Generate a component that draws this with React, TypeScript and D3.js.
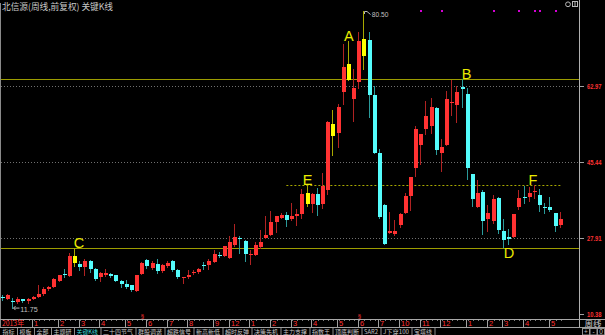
import React from "react";
import * as d3 from "d3";

// ---- data (weekly candles, 前复权) ----
const opens = [14.1, 13.81, 13.34, 13.04, 13.67, 13.2, 13.74, 14.27, 14.89, 15.98, 16.51, 17.97, 19.52, 19.06, 23.69, 21.84, 21.07, 22.6, 20.61, 18.76, 19.36, 19.52, 19.36, 17.97, 17.21, 16.91, 15.66, 19.52, 22.76, 20.91, 21.84, 20.15, 21.38, 22.46, 20.45, 18.7, 18.76, 19.9, 19.92, 21.65, 21.61, 22.37, 23.97, 23.76, 23.3, 26.24, 27.85, 27.16, 24.15, 23.92, 25.77, 27.93, 28.55, 31.63, 32.56, 33.18, 32.26, 32.88, 33.48, 38.28, 35.66, 37.97, 35.66, 39.04, 54.32, 52.17, 61.73, 64.5, 60.04, 63.9, 73.93, 73.77, 60.96, 47.6, 35.57, 29.09, 28.78, 30.8, 33.72, 37.58, 44.06, 49.46, 53.16, 53.79, 57.95, 47.61, 49.46, 59.04, 58.72, 62.89, 61.2, 42.67, 35.11, 38.51, 32.19, 31.72, 37.12, 29.55, 28.16, 28.02, 35.11, 37.42, 37.28, 38.6, 37.88, 35.11, 34.96, 33.57, 30.94];
const highs = [14.66, 14.82, 13.9, 14.13, 13.81, 13.97, 14.43, 16.91, 16.45, 16.75, 18.6, 19.36, 20.61, 24.45, 25.47, 22.6, 22.93, 22.76, 20.91, 19.99, 20.61, 19.69, 19.4, 18.14, 18.14, 16.95, 19.4, 22.3, 22.93, 22.6, 22.93, 21.84, 22.46, 22.76, 20.75, 18.9, 20.45, 20.5, 20.84, 22.37, 22.99, 25.15, 24.69, 26.08, 28.39, 31.17, 28.4, 27.32, 25.15, 26.86, 29.64, 33.02, 34.11, 33.02, 33.65, 33.81, 35.96, 34.57, 39.2, 40.06, 38.28, 39.5, 42.9, 54.94, 57.42, 58.95, 72.7, 73.47, 66.98, 75.62, 80.5, 75.62, 62.98, 48.46, 35.73, 33.88, 32.02, 33.72, 38.35, 42.05, 53.79, 52.0, 59.5, 60.27, 58.25, 50.85, 61.96, 64.43, 63.05, 64.74, 62.58, 42.7, 41.29, 38.97, 35.57, 37.74, 37.42, 32.19, 30.01, 33.41, 38.97, 39.9, 39.6, 40.06, 39.27, 36.03, 37.42, 33.6, 33.88];
const lows = [13.5, 13.67, 11.75, 12.74, 13.04, 12.88, 13.67, 14.13, 14.73, 15.82, 16.45, 17.83, 18.76, 19.0, 21.38, 20.45, 19.22, 19.99, 18.14, 17.83, 19.06, 18.9, 17.9, 16.58, 16.28, 15.66, 15.52, 19.5, 20.91, 20.61, 19.69, 19.99, 21.07, 20.29, 18.6, 17.37, 18.6, 19.45, 19.76, 20.68, 20.68, 22.23, 23.46, 23.62, 23.25, 26.08, 24.3, 22.53, 21.77, 23.9, 25.61, 27.9, 28.5, 29.32, 32.42, 30.57, 31.96, 30.87, 32.42, 35.2, 33.95, 33.18, 34.87, 38.11, 47.07, 48.92, 58.95, 64.4, 54.94, 62.52, 67.0, 55.87, 47.5, 32.42, 26.4, 28.95, 28.62, 30.47, 33.57, 34.34, 42.21, 44.99, 51.93, 52.1, 47.3, 43.44, 49.32, 56.4, 54.71, 58.25, 41.45, 35.27, 34.96, 28.78, 29.55, 31.26, 28.95, 25.84, 26.47, 28.02, 34.64, 36.03, 36.35, 37.12, 34.18, 33.72, 34.18, 29.55, 30.47];
const closes = [14.0, 14.59, 12.97, 13.67, 13.2, 13.67, 14.27, 14.96, 16.12, 16.45, 18.3, 19.22, 19.22, 23.69, 22.0, 21.21, 22.46, 20.61, 18.44, 19.69, 19.83, 19.06, 17.97, 17.21, 16.45, 15.82, 19.36, 22.14, 21.38, 22.14, 20.15, 21.68, 22.14, 20.45, 18.76, 18.8, 19.36, 20.0, 20.68, 21.55, 22.53, 24.08, 23.87, 25.94, 26.86, 28.09, 27.75, 24.08, 24.25, 26.24, 27.0, 28.55, 31.63, 32.88, 33.18, 32.09, 33.02, 33.48, 37.97, 35.66, 38.11, 35.5, 39.97, 54.78, 51.4, 58.18, 67.45, 68.07, 62.52, 73.47, 70.06, 60.96, 47.54, 32.7, 26.47, 29.55, 29.41, 33.41, 37.58, 41.91, 53.16, 51.93, 56.1, 58.25, 48.23, 48.99, 60.11, 59.34, 61.66, 62.42, 44.06, 36.82, 38.35, 31.86, 33.72, 36.82, 29.71, 27.4, 27.56, 33.41, 37.12, 37.12, 38.2, 38.7, 35.57, 34.96, 34.34, 30.64, 32.33];

// key candles (yellow)
const keyCandles = [15, 60, 65, 68, 71];
// right axis
const axisTicks = [62.97, 45.44, 27.91, 10.38];
const gridTicks = [62.97, 45.44, 27.91];
// key-line levels
const levelResist = 64.6;
const levelSupport = 25.47;
const levelDash = 40.06;
const dashFrom = 56;
const dashTo = 109;
// letter marks
const markNames = ["C", "E", "A", "B", "F", "D"];
const markIdx = [15, 60, 68, 90, 104, 99];
const markBelow = [false, false, false, false, false, true];
// signal dots at top
const signalIdx = [82, 86, 96, 101, 104, 105, 108];
// ex-rights markers
const rightsIdx = [28, 70];
// high / low annotations
const maxIdx = 71;
const minIdx = 3;
// months
const monthLabels = ["2013年", "1", "2", "3", "4", "5", "6", "7", "8", "9", "12", "1", "2", "3", "4", "5", "6", "7", "10", "11", "12", "1", "2", "3", "4", "5"];
const monthStarts = [1, 7, 12, 16, 20, 25, 29, 33, 37, 42, 45, 49, 53, 57, 61, 66, 70, 74, 78, 82, 86, 91, 95, 98, 102, 107];
// bottom tabs
const tabNames = ["指标", "模板", "全部", "主题研", "关键K线", "二十四节气", "群股调谐", "超跌信号", "新高新低", "超时反弹", "决策先机", "主力支撑", "指数王", "顶底判断", "SAR2", "J下穿100", "宝塔线"];
const activeTab = "关键K线";
const title = "北信源(周线,前复权) 关键K线";

const CJK = "'Noto Sans CJK SC', 'Noto Sans', sans-serif";
const LAT = "'Liberation Sans', Arial, sans-serif";

export default function App() {
  const W = 605;
  const H = 335;
  const n = opens.length;
  const ids = d3.range(1, n + 1);
  const x = d3.scaleBand<number>().domain(ids).range([0.1, 563.3]);
  const cx = (i: number) => (x(i) as number) + x.bandwidth() / 2;
  const y = d3.scaleLinear().domain([axisTicks[3], axisTicks[0]]).range([313.5, 86.3]);
  const py = (v: number) => Math.round(y(v)) + 0.5;
  const plotL = 1;
  const plotR = 579;

  const textW = (s: string) =>
    Array.from(s).reduce((a, ch) => a + (/[\u3000-\u9fff\uff00-\uffef]/.test(ch) ? 6 : 3.5), 0);

  // tabs layout
  let acc = 0;
  const tabs = tabNames.map((t) => {
    const w = textW(t);
    const item = { t, x0: acc, w, tw: w + 5 };
    acc += w + 5;
    return item;
  });

  const candles = ids.map((i) => {
    const o = opens[i - 1], h = highs[i - 1], l = lows[i - 1], c = closes[i - 1];
    const isKey = keyCandles.includes(i);
    const up = c >= o;
    const body = isKey ? "#ffff00" : up ? "#ff3232" : "#54fcfc";
    const wick = isKey ? "#a8a800" : up ? "#b02222" : "#2a9a9a";
    const left = Math.round(cx(i) - 2);
    const top = Math.round(y(Math.max(o, c)));
    const bot = Math.round(y(Math.min(o, c)));
    const bh = Math.max(1, bot - top);
    return (
      <g key={i}>
        <line x1={left + 1.5} x2={left + 1.5} y1={Math.round(y(h))} y2={Math.round(y(l)) + 1} stroke={wick} strokeWidth={1} />
        <rect x={left} y={top} width={4} height={bh} fill={body} />
      </g>
    );
  });

  return (
    <svg width={W} height={H} style={{ position: "absolute", left: 0, top: 0, background: "#000" }} xmlns="http://www.w3.org/2000/svg">
      <rect x={0} y={0} width={W} height={H} fill="#000" />
      {/* title */}
      <text x={2} y={9.5} fontFamily={CJK} fontSize={9} fill="#c8c8c8" textLength={111} lengthAdjust="spacingAndGlyphs">{title}</text>
      {/* top right icons */}
      <circle cx={568} cy={4.3} r={2.4} fill="none" stroke="#b8b8b8" strokeWidth={1} />
      <rect x={572.5} y={1.5} width={5} height={5} fill="none" stroke="#b8b8b8" strokeWidth={1} />
      <line x1={575} x2={575} y1={1.5} y2={6.5} stroke="#b8b8b8" />

      {/* borders */}
      <line x1={0.5} x2={0.5} y1={3} y2={327} stroke="#8a8a8a" />
      <line x1={579.5} x2={579.5} y1={0} y2={327} stroke="#b0b0b0" />

      {/* grid */}
      {gridTicks.map((t) => (
        <line key={t} x1={plotL} x2={plotR} y1={py(t)} y2={py(t)} stroke="#707070" strokeDasharray="1 2" />
      ))}

      {/* key levels */}
      <line x1={plotL} x2={plotR} y1={py(levelResist)} y2={py(levelResist)} stroke="#9c9c00" />
      <line x1={plotL} x2={plotR} y1={py(levelSupport)} y2={py(levelSupport)} stroke="#9c9c00" />
      <line x1={cx(dashFrom) - 0.5} x2={cx(dashTo)} y1={py(levelDash)} y2={py(levelDash)} stroke="#a8a800" strokeDasharray="2 2" />

      {/* candles */}
      {candles}

      {/* letter marks */}
      {markNames.map((m, k) => {
        const i = markIdx[k];
        const below = markBelow[k];
        const yy = below ? y(lows[i - 1]) + 14 : y(highs[i - 1]);
        const dx = m === "C" || m === "B" ? 4 : m === "F" ? -2 : 0;
        return (
          <text key={m} x={cx(i) + dx} y={yy} textAnchor="middle" fontFamily={LAT} fontSize={14.5} fill="#eaea00">{m}</text>
        );
      })}

      {/* max annotation */}
      <path d={`M ${Math.round(cx(maxIdx)) + 0.5} ${Math.round(y(highs[maxIdx - 1])) + 3} V ${Math.round(y(highs[maxIdx - 1])) + 0.5} H ${Math.round(cx(maxIdx)) + 3} L ${Math.round(cx(maxIdx)) + 6.5} ${Math.round(y(highs[maxIdx - 1])) + 3.5}`} fill="none" stroke="#b8b8b8" />
      <text x={cx(maxIdx) + 7.5} y={y(highs[maxIdx - 1]) + 6.8} fontFamily={LAT} fontSize={7.5} fill="#c0c0c0" textLength={16.6} lengthAdjust="spacingAndGlyphs">{highs[maxIdx - 1].toFixed(2)}</text>
      {/* min annotation */}
      <path d={`M ${cx(minIdx) + 0.5} ${y(lows[minIdx - 1]) + 0.5} H ${cx(minIdx) + 6.5} M ${cx(minIdx) + 2.5} ${y(lows[minIdx - 1]) - 1.5} L ${cx(minIdx) + 0.5} ${y(lows[minIdx - 1]) + 0.5} L ${cx(minIdx) + 2.5} ${y(lows[minIdx - 1]) + 2.5}`} fill="none" stroke="#b8b8b8" />
      <text x={cx(minIdx) + 7.3} y={y(lows[minIdx - 1]) + 4} fontFamily={LAT} fontSize={8} fill="#c0c0c0" textLength={17.4} lengthAdjust="spacingAndGlyphs">{lows[minIdx - 1].toFixed(2)}</text>

      {/* signal dots */}
      {signalIdx.map((i) => (
        <rect key={i} x={Math.round(cx(i)) - 1} y={10} width={2} height={2} fill="#d400d4" />
      ))}

      {/* ex-rights markers */}
      {rightsIdx.map((i) => (
        <text key={i} x={cx(i) - 1.5} y={318} fontFamily={LAT} fontSize={6} fill="#ff3030">§</text>
      ))}

      {/* right axis */}
      {axisTicks.map((t) => (
        <g key={t}>
          <line x1={580} x2={584} y1={py(t)} y2={py(t)} stroke="#a0a0a0" />
          <text x={587} y={y(t) + 3} fontFamily={LAT} fontWeight="bold" fontSize={8} fill="#ff3232" textLength={14.5} lengthAdjust="spacingAndGlyphs">{t.toFixed(2)}</text>
        </g>
      ))}

      {/* date axis */}
      <line x1={0} x2={W} y1={319.5} y2={319.5} stroke="#a8a8a8" />
      {ids.map((i) => (
        <rect key={i} x={Math.round(cx(i))} y={320} width={1} height={1} fill="#7a7a7a" />
      ))}
      {monthLabels.map((m, k) => {
        const sx = k === 0 ? 0.5 : Math.round(cx(monthStarts[k]) - 1.5) + 0.5;
        return (
          <g key={k}>
            {k > 0 && <line x1={sx} x2={sx} y1={319.5} y2={327} stroke="#a0a0a0" />}
            <text x={sx + 1.5} y={325.8} fontFamily={m.length > 2 ? CJK : LAT} fontSize={7.5} fill="#ff3232" {...(m.length > 2 ? { textLength: 22, lengthAdjust: "spacingAndGlyphs" } : {})}>{m}</text>
          </g>
        );
      })}
      <text x={584.5} y={326.5} fontFamily={CJK} fontSize={8} fill="#d0d0d0" textLength={17} lengthAdjust="spacingAndGlyphs">周线</text>
      <line x1={0} x2={W} y1={327.5} y2={327.5} stroke="#a0a0a0" />

      {/* tabs */}
      {tabs.map((tb) => (
        <g key={tb.t}>
          <line x1={tb.x0 + tb.tw + 0.5} x2={tb.x0 + tb.tw + 0.5} y1={328} y2={335} stroke="#8a8a8a" />
          <text x={tb.x0 + 2.5} y={334.2} fontFamily={CJK} fontSize={6} fill={tb.t === activeTab ? "#3ad8d8" : "#c4c4c4"} textLength={tb.w} lengthAdjust="spacingAndGlyphs">{tb.t}</text>
        </g>
      ))}
      {["+", "-", "0"].map((b, k) => (
        <g key={b}>
          <rect x={582.5 + k * 7.5} y={328.5} width={7} height={6.5} fill="none" stroke="#909090" />
          <text x={586 + k * 7.5} y={334.3} textAnchor="middle" fontFamily={LAT} fontSize={6.5} fill="#c0c0c0">{b}</text>
        </g>
      ))}
    </svg>
  );
}
